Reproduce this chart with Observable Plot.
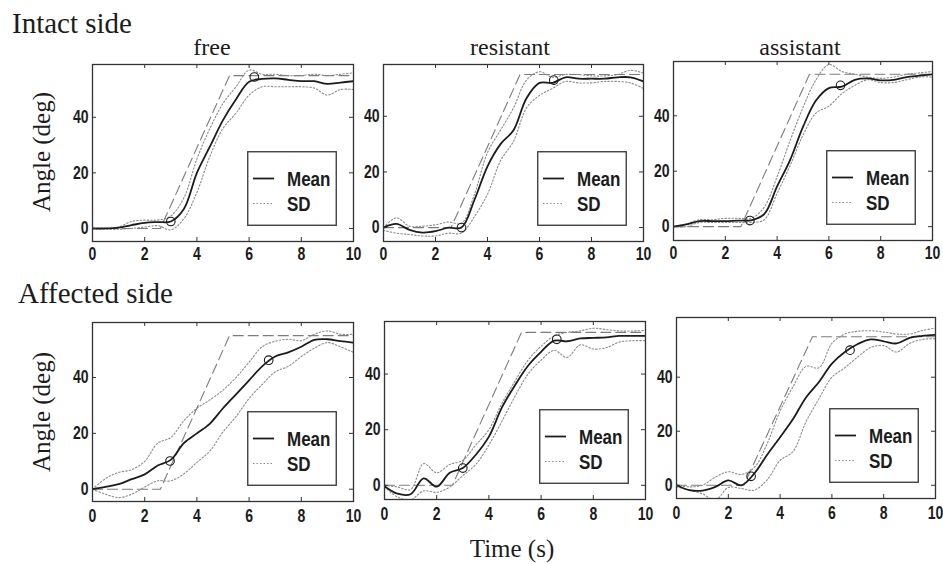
<!DOCTYPE html>
<html>
<head>
<meta charset="utf-8">
<script src="https://cdn.jsdelivr.net/npm/d3@7"></script>
<script src="https://cdn.jsdelivr.net/npm/@observablehq/plot@0.6"></script>
<style>
  html, body { margin: 0; padding: 0; background: #fff; }
  #fig { position: relative; width: 943px; height: 564px; overflow: hidden; background: #fff; }
  #fig > svg { position: absolute; }
</style>
</head>
<body>
<div id="fig"></div>
<script>
// ---------------- data ----------------
const time = [0, 0.5, 1, 1.5, 2, 2.5, 3, 3.5, 4, 4.5, 5, 5.5, 6, 6.5, 7, 7.5, 8, 8.5, 9, 9.5, 10];
const xTicks = [0, 2, 4, 6, 8, 10];
const yTicks = [0, 20, 40];
const columns = ["free", "resistant", "assistant"];
const sides = ["Intact side", "Affected side"];
const xLabel = "Time (s)";
const yLabel = "Angle (deg)";
const legendLabels = ["Mean", "SD"];

// target (reference) trajectory, dashed
const refTime = [0, 2.6, 5.25, 10];
const refAngle = [0, 0, 55, 55];

// Intact side
const meanIntactFree = [0, 0, 0.3, 1.2, 2, 2.3, 2.5, 7, 20, 29.5, 39, 46.5, 52.8, 53.8, 54, 53.5, 53, 53, 52, 52.5, 53];
const upIntactFree   = [0, 0, 0.5, 2.5, 3, 3, 4.5, 11, 25, 36, 45, 51, 57, 55.5, 55.5, 55, 55, 55.5, 55, 55.5, 56];
const loIntactFree   = [-0.3, -0.3, -0.3, 0, 0.5, 1, -0.5, 3.5, 13, 26, 36, 41.5, 48, 51, 51, 51, 51, 50.5, 48, 50, 50];
const markTimeIntactFree  = [3.0, 6.2];
const markAngleIntactFree = [2.5, 54.5];

const meanIntactRes = [0, 1.3, -0.8, -1.8, -1.3, 0, 0, 10, 22, 30, 35, 46.5, 52, 52, 54, 53.5, 53.5, 53.5, 54, 54, 52.5];
const upIntactRes   = [0, 3.5, 0.5, 0.5, 1, 2, 1.5, 12, 27, 35, 43, 53, 56, 54, 55, 55, 54.5, 54.5, 55, 56.5, 55.5];
const loIntactRes   = [-1, -2, -2.5, -3, -3, -2, -2, 4, 12, 24, 31, 43, 47.5, 50, 52.5, 52, 52, 52.5, 52.5, 52, 50];
const markTimeIntactRes  = [3.0, 6.55];
const markAngleIntactRes = [0, 53];

const meanIntactAss = [0, 0.8, 2, 2, 2, 2.2, 2.3, 4.5, 14.5, 24, 36, 45.5, 50, 50.5, 53, 53.5, 52.8, 53, 54, 54.5, 55];
const upIntactAss   = [0, 1, 2.5, 2.5, 3, 3, 3, 7, 18, 31, 43, 53, 58.5, 56, 55, 54, 53.5, 54, 55, 55.5, 56];
const loIntactAss   = [0, 0, 1.5, 1.5, 1.5, 1.5, 1.5, 2.5, 12, 22, 33, 41, 43.5, 48, 51, 53, 52, 52, 53, 54, 54];
const markTimeIntactAss  = [2.95, 6.45];
const markAngleIntactAss = [2.2, 51];

// Affected side
const meanAffFree = [0, 0.8, 1.8, 3.6, 5.3, 8.5, 10.5, 16.5, 20, 23.5, 29, 34, 39, 44, 47.5, 49, 51, 53.5, 53.7, 53, 52.5];
const upAffFree   = [0, 3.8, 6, 7, 10, 16.5, 18.5, 24.5, 29, 32, 35.5, 40, 45.5, 51, 53, 53.7, 53.2, 55.5, 56.7, 55.5, 55.5];
const loAffFree   = [0, -1.8, -3, -1.8, 0.8, 3, 3, 5.5, 9.6, 13.7, 20.5, 26, 32.5, 37.5, 42, 44, 47.5, 50.5, 52.5, 51, 49];
const markTimeAffFree  = [2.97, 6.75];
const markAngleAffFree = [10.1, 46.2];

const meanAffRes = [-0.3, -3, -3.2, 2.5, -0.5, 4.5, 6.2, 11, 17.5, 28, 36, 43, 48, 52, 51.8, 52.8, 53, 53.2, 53.7, 53.7, 53.7];
const upAffRes   = [0, -0.6, -1.5, 7.8, 4.5, 7.5, 9, 14.5, 20, 29.5, 37.5, 45, 50, 53.7, 55, 55.5, 56.5, 56, 55.5, 55.5, 55.7];
const loAffRes   = [-0.6, -4.2, -5.2, -2, -2.5, -0.6, 3.5, 7.5, 14.5, 23, 32, 40, 45, 48.5, 46, 50.5, 49, 49.5, 51.5, 52, 52];
const markTimeAffRes  = [3.0, 6.6];
const markAngleAffRes = [6.2, 52.5];

const meanAffAss = [0, -1.8, -2, -0.6, 1.8, 0, 4.3, 11.3, 17.8, 24.5, 32.5, 38.2, 45, 49.3, 52.3, 54, 53.3, 52.5, 54.6, 55.3, 55.7];
const upAffAss   = [0, -0.6, 0, 3, 5, 4, 6.5, 15.4, 27.5, 36.5, 44, 43.5, 52.5, 56, 57, 57.2, 56.7, 56, 56, 57.3, 58.2];
const loAffAss   = [-0.6, -1.8, -3.2, -5.5, -0.8, -1.2, -1.8, 2, 9.2, 12.5, 23.5, 32, 40, 43.5, 47.5, 51, 51.7, 49.3, 52.5, 54, 54.2];
const markTimeAffAss  = [2.88, 6.7];
const markAngleAffAss = [3.3, 50];

const panels = [
  {row: 0, col: 0, mean: meanIntactFree, up: upIntactFree, lo: loIntactFree, mt: markTimeIntactFree, ma: markAngleIntactFree},
  {row: 0, col: 1, mean: meanIntactRes,  up: upIntactRes,  lo: loIntactRes,  mt: markTimeIntactRes,  ma: markAngleIntactRes},
  {row: 0, col: 2, mean: meanIntactAss,  up: upIntactAss,  lo: loIntactAss,  mt: markTimeIntactAss,  ma: markAngleIntactAss},
  {row: 1, col: 0, mean: meanAffFree,    up: upAffFree,    lo: loAffFree,    mt: markTimeAffFree,    ma: markAngleAffFree},
  {row: 1, col: 1, mean: meanAffRes,     up: upAffRes,     lo: loAffRes,     mt: markTimeAffRes,     ma: markAngleAffRes},
  {row: 1, col: 2, mean: meanAffAss,     up: upAffAss,     lo: loAffAss,     mt: markTimeAffAss,     ma: markAngleAffAss}
];

// ---------------- layout (pixels of each plot frame) ----------------
const layout = [
  {left: 92,  top: 64,  fw: 261, fh: 177, ymin: -4.7, ymax: 59.0, pad: 6},
  {left: 383, top: 64,  fw: 260, fh: 177, ymin: -5.0, ymax: 58.6, pad: 6},
  {left: 673, top: 61,  fw: 259, fh: 179, ymin: -5.0, ymax: 59.6, pad: 6},
  {left: 92,  top: 322, fw: 261, fh: 179, ymin: -4.4, ymax: 59.7, pad: 8},
  {left: 384, top: 321, fw: 261, fh: 178, ymin: -5.1, ymax: 58.9, pad: 8},
  {left: 676, top: 317, fw: 259, fh: 181, ymin: -4.9, ymax: 62.1, pad: 8}
];

const fig = document.getElementById("fig");
const ML = 40, MR = 8, MT = 6, MB = 32;
const ink = "#1c1c1c";
const tickFont = "'Liberation Sans', Arial, sans-serif";
const serif = "'Liberation Serif', 'Times New Roman', serif";

// ---------------- text overlay ----------------
const overlay = d3.select(fig).append("svg")
  .attr("width", 943).attr("height", 564)
  .style("left", "0px").style("top", "0px");

overlay.append("text").attr("x", 12).attr("y", 33).text(sides[0])
  .attr("font-family", serif).attr("font-size", 29).attr("fill", ink);
overlay.append("text").attr("x", 18).attr("y", 303).text(sides[1])
  .attr("font-family", serif).attr("font-size", 29).attr("fill", ink);
[212, 510, 800].forEach((cx, i) => {
  overlay.append("text").attr("x", cx).attr("y", 55).attr("text-anchor", "middle")
    .text(columns[i]).attr("font-family", serif).attr("font-size", 24).attr("fill", ink);
});
[152, 412].forEach(cy => {
  overlay.append("text").attr("transform", `translate(50,${cy}) rotate(-90)`)
    .attr("text-anchor", "middle").text(yLabel)
    .attr("font-family", serif).attr("font-size", 25).attr("fill", ink);
});
overlay.append("text").attr("x", 512).attr("y", 557).attr("text-anchor", "middle")
  .text(xLabel).attr("font-family", serif).attr("font-size", 25).attr("fill", ink);

// ---------------- panels ----------------
const rows = (xs, ys) => xs.map((x, j) => ({t: x, v: ys[j]}));

panels.forEach((p, i) => {
  const L = layout[i];
  const svg = Plot.plot({
    width: L.fw + ML + MR,
    height: L.fh + MT + MB,
    marginLeft: ML, marginRight: MR, marginTop: MT, marginBottom: MB,
    x: {domain: [0, 10]},
    y: {domain: [L.ymin, L.ymax]},
    style: {background: "transparent", fontFamily: tickFont, fontSize: "18px", fontWeight: "bold", color: ink, overflow: "visible"},
    marks: [
      Plot.line(rows(refTime, refAngle), {x: "t", y: "v", stroke: "#7c7c7c", strokeWidth: 1.1, strokeDasharray: "10,5", clip: true}),
      Plot.line(rows(time, p.up), {x: "t", y: "v", stroke: "#8c8c8c", strokeWidth: 1.1, strokeDasharray: "1.5,2", curve: "catmull-rom", clip: true}),
      Plot.line(rows(time, p.lo), {x: "t", y: "v", stroke: "#8c8c8c", strokeWidth: 1.1, strokeDasharray: "1.5,2", curve: "catmull-rom", clip: true}),
      Plot.line(rows(time, p.mean), {x: "t", y: "v", stroke: ink, strokeWidth: 1.8, curve: "catmull-rom", clip: true}),
      Plot.dot(rows(p.mt, p.ma), {x: "t", y: "v", r: 4.3, stroke: ink, strokeWidth: 1.1, fill: "none"}),
      Plot.tickX(xTicks, {x: d => d, insetTop: L.fh - 4, stroke: "#333"}),
      Plot.tickX(xTicks, {x: d => d, insetBottom: L.fh - 4, stroke: "#333"}),
      Plot.tickY(yTicks, {y: d => d, insetRight: L.fw - 4, stroke: "#333"}),
      Plot.tickY(yTicks, {y: d => d, insetLeft: L.fw - 4, stroke: "#333"}),
      Plot.frame({stroke: "#333", strokeWidth: 1.3}),
      Plot.axisX({ticks: xTicks, tickSize: 0, tickPadding: L.pad, label: null, fontSize: 18}),
      Plot.axisY({ticks: yTicks, tickSize: 0, tickPadding: 4, label: null, fontSize: 18})
    ]
  });
  // narrow the tick-label glyphs (the original uses a condensed sans)
  svg.querySelectorAll("text").forEach(t => {
    const tr = t.getAttribute("transform") || "";
    t.setAttribute("transform", tr + " scale(0.78,1)");
  });
  svg.style.position = "absolute";
  svg.style.left = (L.left - ML) + "px";
  svg.style.top = (L.top - MT) + "px";
  fig.appendChild(svg);

  // legend box
  const lw = 90, lh = 75;
  const lg = d3.select(fig).append("svg")
    .attr("width", lw).attr("height", lh)
    .style("left", (L.left + L.fw - 16 - lw) + "px")
    .style("top", (L.top + L.fh - 15 - lh) + "px");
  lg.append("rect").attr("x", 0.75).attr("y", 0.75).attr("width", lw - 1.5).attr("height", lh - 1.5)
    .attr("fill", "#fff").attr("stroke", "#333").attr("stroke-width", 1.3);
  lg.append("line").attr("x1", 6).attr("x2", 27).attr("y1", 27.5).attr("y2", 27.5)
    .attr("stroke", ink).attr("stroke-width", 1.8);
  lg.append("line").attr("x1", 6).attr("x2", 27).attr("y1", 52.5).attr("y2", 52.5)
    .attr("stroke", "#8c8c8c").attr("stroke-width", 1.1).attr("stroke-dasharray", "1.5,2");
  legendLabels.forEach((lab, k) => {
    lg.append("text").attr("transform", `translate(40,${34.7 + 25 * k}) scale(0.85,1)`).text(lab)
      .attr("font-family", tickFont).attr("font-size", 20).attr("font-weight", "bold").attr("fill", ink);
  });
});
</script>
</body>
</html>
